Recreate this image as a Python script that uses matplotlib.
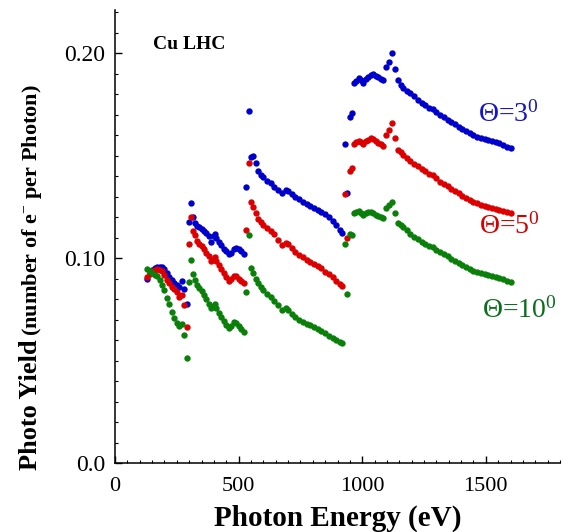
import matplotlib
matplotlib.use("Agg")
import matplotlib.pyplot as plt
from matplotlib.ticker import MultipleLocator, FixedLocator, FixedFormatter

plt.rcParams["font.family"] = ["Liberation Serif", "DejaVu Serif"]
plt.rcParams["mathtext.fontset"] = "custom"
plt.rcParams["mathtext.rm"] = "Liberation Serif"
plt.rcParams["mathtext.it"] = "Liberation Serif:italic"
plt.rcParams["mathtext.bf"] = "Liberation Serif:bold"

# photon energy (eV), same grid for the three angles
energy = [
    130, 140, 150, 160, 170, 180, 190, 200, 210, 220, 230, 240, 250, 260, 270, 280, 290,
    300, 308, 317, 325, 333, 341, 350, 360, 370, 380, 390, 400, 405, 410, 420, 430, 440,
    450, 460, 470, 480, 490, 500, 510, 520,
    530, 540, 550, 560, 570, 580, 590, 600, 615, 630, 645, 660, 675, 690, 700, 715, 730,
    745, 760, 775, 790, 805, 820, 835, 850, 865, 880, 895, 910, 920,
    930, 940, 950, 958, 968, 975, 985, 995, 1005, 1015, 1025, 1035, 1045, 1055, 1065,
    1075, 1085, 1097, 1110, 1120, 1133, 1145, 1155, 1165, 1180, 1195, 1210, 1225, 1240,
    1255, 1270, 1285, 1300, 1315, 1330, 1345, 1360, 1375, 1390, 1405, 1420, 1435, 1450,
    1465, 1480, 1495, 1510, 1525, 1540, 1555, 1570, 1585, 1600,
]

yield_3 = [
    0.0896, 0.0925, 0.0940, 0.0950, 0.0955, 0.0957, 0.0955, 0.0945, 0.0925, 0.0905, 0.0893,
    0.0880, 0.0868, 0.0858, 0.0890, 0.0847, 0.0776,
    0.1175, 0.1266, 0.1200, 0.1170, 0.1158, 0.1150, 0.1142, 0.1132, 0.1123, 0.1105, 0.1078,
    0.1105, 0.1117, 0.1100, 0.1078, 0.1062, 0.1045, 0.1032, 0.1018, 0.1025, 0.1042, 0.1047,
    0.1042, 0.1035, 0.1020,
    0.1348, 0.1719, 0.1495, 0.1498, 0.1462, 0.1426, 0.1405, 0.1395, 0.1378, 0.1365, 0.1348,
    0.1333, 0.1315, 0.1332, 0.1325, 0.1312, 0.1297, 0.1288, 0.1275, 0.1263, 0.1255, 0.1245,
    0.1235, 0.1225, 0.1213, 0.1200, 0.1182, 0.1160, 0.1135, 0.1120,
    0.1556, 0.1319, 0.1686, 0.1709, 0.1855, 0.1862, 0.1876, 0.1870, 0.1855, 0.1875, 0.1885,
    0.1892, 0.1898, 0.1890, 0.1881, 0.1875, 0.1868, 0.1933, 0.1958, 0.1998, 0.1920, 0.1868,
    0.1844, 0.1830, 0.1815, 0.1803, 0.1790, 0.1770, 0.1758, 0.1745, 0.1732, 0.1725, 0.1712,
    0.1698, 0.1688, 0.1675, 0.1663, 0.1652, 0.1640, 0.1630, 0.1618, 0.1610, 0.1600, 0.1592,
    0.1584, 0.1580, 0.1575, 0.1570, 0.1565, 0.1560, 0.1552, 0.1543, 0.1535,
]

yield_5 = [
    0.0906, 0.0920, 0.0935, 0.0942, 0.0945, 0.0942, 0.0935, 0.0915, 0.0895, 0.0878, 0.0860,
    0.0848, 0.0836, 0.0808, 0.0820, 0.0770, 0.0665,
    0.1070, 0.1200, 0.1130, 0.1110, 0.1085, 0.1070, 0.1058, 0.1042, 0.1025, 0.1012, 0.0985,
    0.0995, 0.1003, 0.0985, 0.0965, 0.0945, 0.0928, 0.0905, 0.0889, 0.0898, 0.0912, 0.0910,
    0.0898, 0.0890, 0.0880,
    0.1137, 0.1465, 0.1275, 0.1250, 0.1220, 0.1190, 0.1175, 0.1161, 0.1145, 0.1130, 0.1115,
    0.1090, 0.1063, 0.1075, 0.1070, 0.1048, 0.1028, 0.1015, 0.1003, 0.0990, 0.0980, 0.0970,
    0.0960, 0.0950, 0.0932, 0.0920, 0.0905, 0.0890, 0.0875, 0.0863,
    0.1310, 0.1096, 0.1424, 0.1437, 0.1556, 0.1565, 0.1572, 0.1565, 0.1556, 0.1570, 0.1578,
    0.1584, 0.1580, 0.1570, 0.1563, 0.1555, 0.1546, 0.1600, 0.1624, 0.1657, 0.1584, 0.1527,
    0.1515, 0.1503, 0.1486, 0.1472, 0.1460, 0.1448, 0.1435, 0.1423, 0.1412, 0.1405, 0.1388,
    0.1373, 0.1362, 0.1350, 0.1338, 0.1328, 0.1317, 0.1305, 0.1294, 0.1285, 0.1275, 0.1266,
    0.1259, 0.1253, 0.1248, 0.1244, 0.1240, 0.1235, 0.1231, 0.1226, 0.1221,
]

yield_10 = [
    0.0945, 0.0935, 0.0925, 0.0915, 0.0910, 0.0895, 0.0870, 0.0845, 0.0805, 0.0775, 0.0735,
    0.0705, 0.0684, 0.0668, 0.0680, 0.0624, 0.0510,
    0.0885, 0.0990, 0.0920, 0.0893, 0.0868, 0.0852, 0.0840, 0.0822, 0.0798, 0.0775, 0.0755,
    0.0765, 0.0776, 0.0758, 0.0733, 0.0710, 0.0695, 0.0675, 0.0658, 0.0670, 0.0690, 0.0685,
    0.0668, 0.0655, 0.0640,
    0.0836, 0.1112, 0.0950, 0.0925, 0.0900, 0.0876, 0.0860, 0.0844, 0.0825, 0.0810, 0.0790,
    0.0770, 0.0746, 0.0755, 0.0746, 0.0728, 0.0710, 0.0698, 0.0688, 0.0680, 0.0672, 0.0663,
    0.0654, 0.0645, 0.0635, 0.0622, 0.0612, 0.0598, 0.0592, 0.0587,
    0.1070, 0.0824, 0.1117, 0.1112, 0.1221, 0.1225, 0.1231, 0.1220, 0.1210, 0.1222, 0.1226,
    0.1224, 0.1218, 0.1210, 0.1205, 0.1198, 0.1193, 0.1242, 0.1260, 0.1275, 0.1218, 0.1172,
    0.1160, 0.1150, 0.1135, 0.1118, 0.1104, 0.1092, 0.1080, 0.1068, 0.1058, 0.1052, 0.1040,
    0.1031, 0.1018, 0.1008, 0.0996, 0.0987, 0.0977, 0.0967, 0.0955, 0.0946, 0.0937, 0.0930,
    0.0925, 0.0920, 0.0915, 0.0910, 0.0906, 0.0901, 0.0896, 0.0890, 0.0884,
]

series = [
    (yield_3, "#0000cc", "$\\Theta$=3$^0$", 1470, 0.170, "#1414c8"),
    (yield_5, "#dd0000", "$\\Theta$=5$^0$", 1474, 0.1156, "#d40000"),
    (yield_10, "#0a800a", "$\\Theta$=10$^0$", 1486, 0.0746, "#0b6e1e"),
]

fig = plt.figure(figsize=(5.7, 5.32), dpi=100)
ax = fig.add_axes([115 / 570, 1 - 463 / 532, 445 / 570, 453 / 532])

for ys, col, lab, lx, ly, lcol in series:
    ax.scatter(energy, ys, s=21, c=col, marker="o", linewidths=0, zorder=3)
    ax.text(lx, ly, lab, color=lcol, fontsize=20, ha="left", va="center")

ax.text(154, 0.204, "Cu LHC", fontsize=14, weight="bold", ha="left", va="center")

ax.set_xlim(0, 1800)
ax.set_ylim(0, 0.221)
ax.xaxis.set_major_locator(FixedLocator([0, 500, 1000, 1500]))
ax.xaxis.set_minor_locator(MultipleLocator(50))
ax.yaxis.set_major_locator(FixedLocator([0.0, 0.10, 0.20]))
ax.yaxis.set_major_formatter(FixedFormatter(["0.0", "0.10", "0.20"]))
ax.yaxis.set_minor_locator(MultipleLocator(0.01))

ax.spines["top"].set_visible(False)
ax.spines["right"].set_visible(False)
for s in ("left", "bottom"):
    ax.spines[s].set_linewidth(1.1)
ax.tick_params(which="major", direction="in", length=5, width=1.0, labelsize=16)
ax.tick_params(which="minor", direction="in", length=2.5, width=0.8)
ax.tick_params(axis="x", which="major", pad=10)
ax.tick_params(axis="y", which="major", pad=7, labelsize=17)

ax.set_xlabel("Photon Energy (eV)", fontsize=21, weight="bold", labelpad=6)

fig.text(37 / 570, 62 / 532, "Photo Yield", fontsize=19, weight="bold", rotation=90,
         rotation_mode="anchor", ha="left", va="baseline")
fig.text(37 / 570, 196 / 532, "(number of e$^{-}$ per Photon)", fontsize=16, weight="bold",
         rotation=90, rotation_mode="anchor", ha="left", va="baseline")

fig.savefig("out.png", dpi=100)
